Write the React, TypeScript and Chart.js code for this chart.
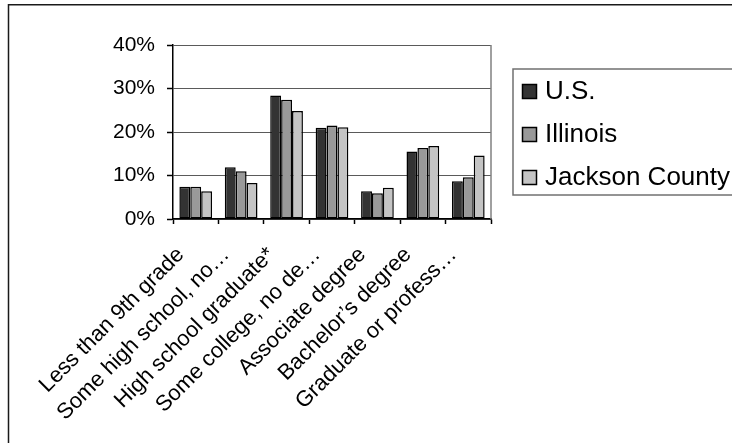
import React, { useEffect, useRef } from "react";
import { Chart, registerables } from "chart.js";

Chart.register(...registerables);

const categories = [
  "Less than 9th grade",
  "Some high school, no…",
  "High school graduate*",
  "Some college, no de…",
  "Associate degree",
  "Bachelor’s degree",
  "Graduate or profess…",
];
const seriesNames = ["U.S.", "Illinois", "Jackson County"];
const usValues = [7.4, 11.9, 28.4, 21.0, 6.4, 15.5, 8.7];
const illinoisValues = [7.4, 11.0, 27.4, 21.5, 5.9, 16.3, 9.6];
const jacksonValues = [6.4, 8.3, 24.8, 21.1, 7.2, 16.8, 14.6];
const yTickValues = [0, 10, 20, 30, 40];
const seriesColors = ["#333333", "#999999", "#c4c4c4"];

const FONT = '"Liberation Sans", Arial, Helvetica, sans-serif';

const framePlugin = {
  id: "frameAndLegend",
  afterDraw(chart: any) {
    const ctx = chart.ctx as CanvasRenderingContext2D;
    const area = chart.chartArea;
    ctx.save();
    // plot area right border
    ctx.strokeStyle = "#808080";
    ctx.lineWidth = 1.5;
    ctx.beginPath();
    ctx.moveTo(area.right, area.top);
    ctx.lineTo(area.right, area.bottom);
    ctx.stroke();
    // outer frame (top and left)
    ctx.strokeStyle = "#1a1a1a";
    ctx.lineWidth = 1.5;
    ctx.beginPath();
    ctx.moveTo(8.5, 443);
    ctx.lineTo(8.5, 4.75);
    ctx.lineTo(732, 4.75);
    ctx.stroke();
    // legend box
    ctx.strokeStyle = "#707070";
    ctx.lineWidth = 1.5;
    ctx.strokeRect(513, 69, 260, 126);
    ctx.font = `26px ${FONT}`;
    ctx.textBaseline = "alphabetic";
    ctx.textAlign = "left";
    chart.data.datasets.forEach((ds: any, i: number) => {
      const base = 98.5 + i * 43;
      ctx.fillStyle = ds.backgroundColor;
      ctx.fillRect(522.5, base - 14, 14, 14);
      ctx.strokeStyle = "#000";
      ctx.lineWidth = 1.5;
      ctx.strokeRect(522.5, base - 14, 14, 14);
      ctx.fillStyle = "#000";
      ctx.fillText(ds.label, 545, base);
    });
    ctx.restore();
  },
};

export default function App() {
  const canvasRef = useRef<HTMLCanvasElement | null>(null);

  useEffect(() => {
    const canvas = canvasRef.current;
    if (!canvas) return;
    const values = [usValues, illinoisValues, jacksonValues];
    const chart = new Chart(canvas, {
      type: "bar",
      data: {
        labels: categories,
        datasets: seriesNames.map((name, i) => ({
          label: name,
          data: values[i],
          backgroundColor: seriesColors[i],
          borderColor: "#000",
          borderWidth: 1.5,
          borderSkipped: false,
          categoryPercentage: 0.72,
          barPercentage: 1.0,
        })),
      },
      options: {
        responsive: false,
        animation: false,
        devicePixelRatio: 1,
        layout: { padding: { left: 0, top: 45, right: 241, bottom: 0 } },
        plugins: {
          legend: { display: false },
          tooltip: { enabled: false },
        },
        scales: {
          x: {
            grid: {
              display: true,
              drawOnChartArea: false,
              drawTicks: true,
              tickLength: 5,
              tickColor: "#000",
              tickWidth: 1.5,
              offset: true,
            },
            border: { display: true, color: "#000", width: 1.5 },
            ticks: {
              font: { family: FONT, size: 22 },
              color: "#000",
              maxRotation: 45,
              minRotation: 45,
              autoSkip: false,
              padding: 18,
              labelOffset: -15,
            },
            afterFit: (s: any) => {
              s.height = 224;
            },
          },
          y: {
            min: 0,
            max: 40,
            afterBuildTicks: (s: any) => {
              s.ticks = yTickValues.map((v) => ({ value: v }));
            },
            ticks: {
              font: { family: FONT, size: 21 },
              color: "#000",
              padding: 12,
              callback: (v: any) => `${v}%`,
            },
            grid: {
              color: "#5a5a5a",
              lineWidth: 1,
              tickColor: "#000",
              tickLength: 6,
              tickWidth: 1.5,
            },
            border: { display: true, color: "#000", width: 1.5 },
            afterFit: (s: any) => {
              s.width = 173;
            },
          },
        },
      },
      plugins: [framePlugin],
    });
    return () => chart.destroy();
  }, []);

  return (
    <div
      style={{
        position: "fixed",
        left: 0,
        top: 0,
        width: 732,
        height: 443,
        overflow: "hidden",
        background: "#fff",
      }}
    >
      <canvas
        ref={canvasRef}
        width={732}
        height={443}
        style={{ position: "absolute", left: 0, top: 0, width: 732, height: 443 }}
      />
    </div>
  );
}
